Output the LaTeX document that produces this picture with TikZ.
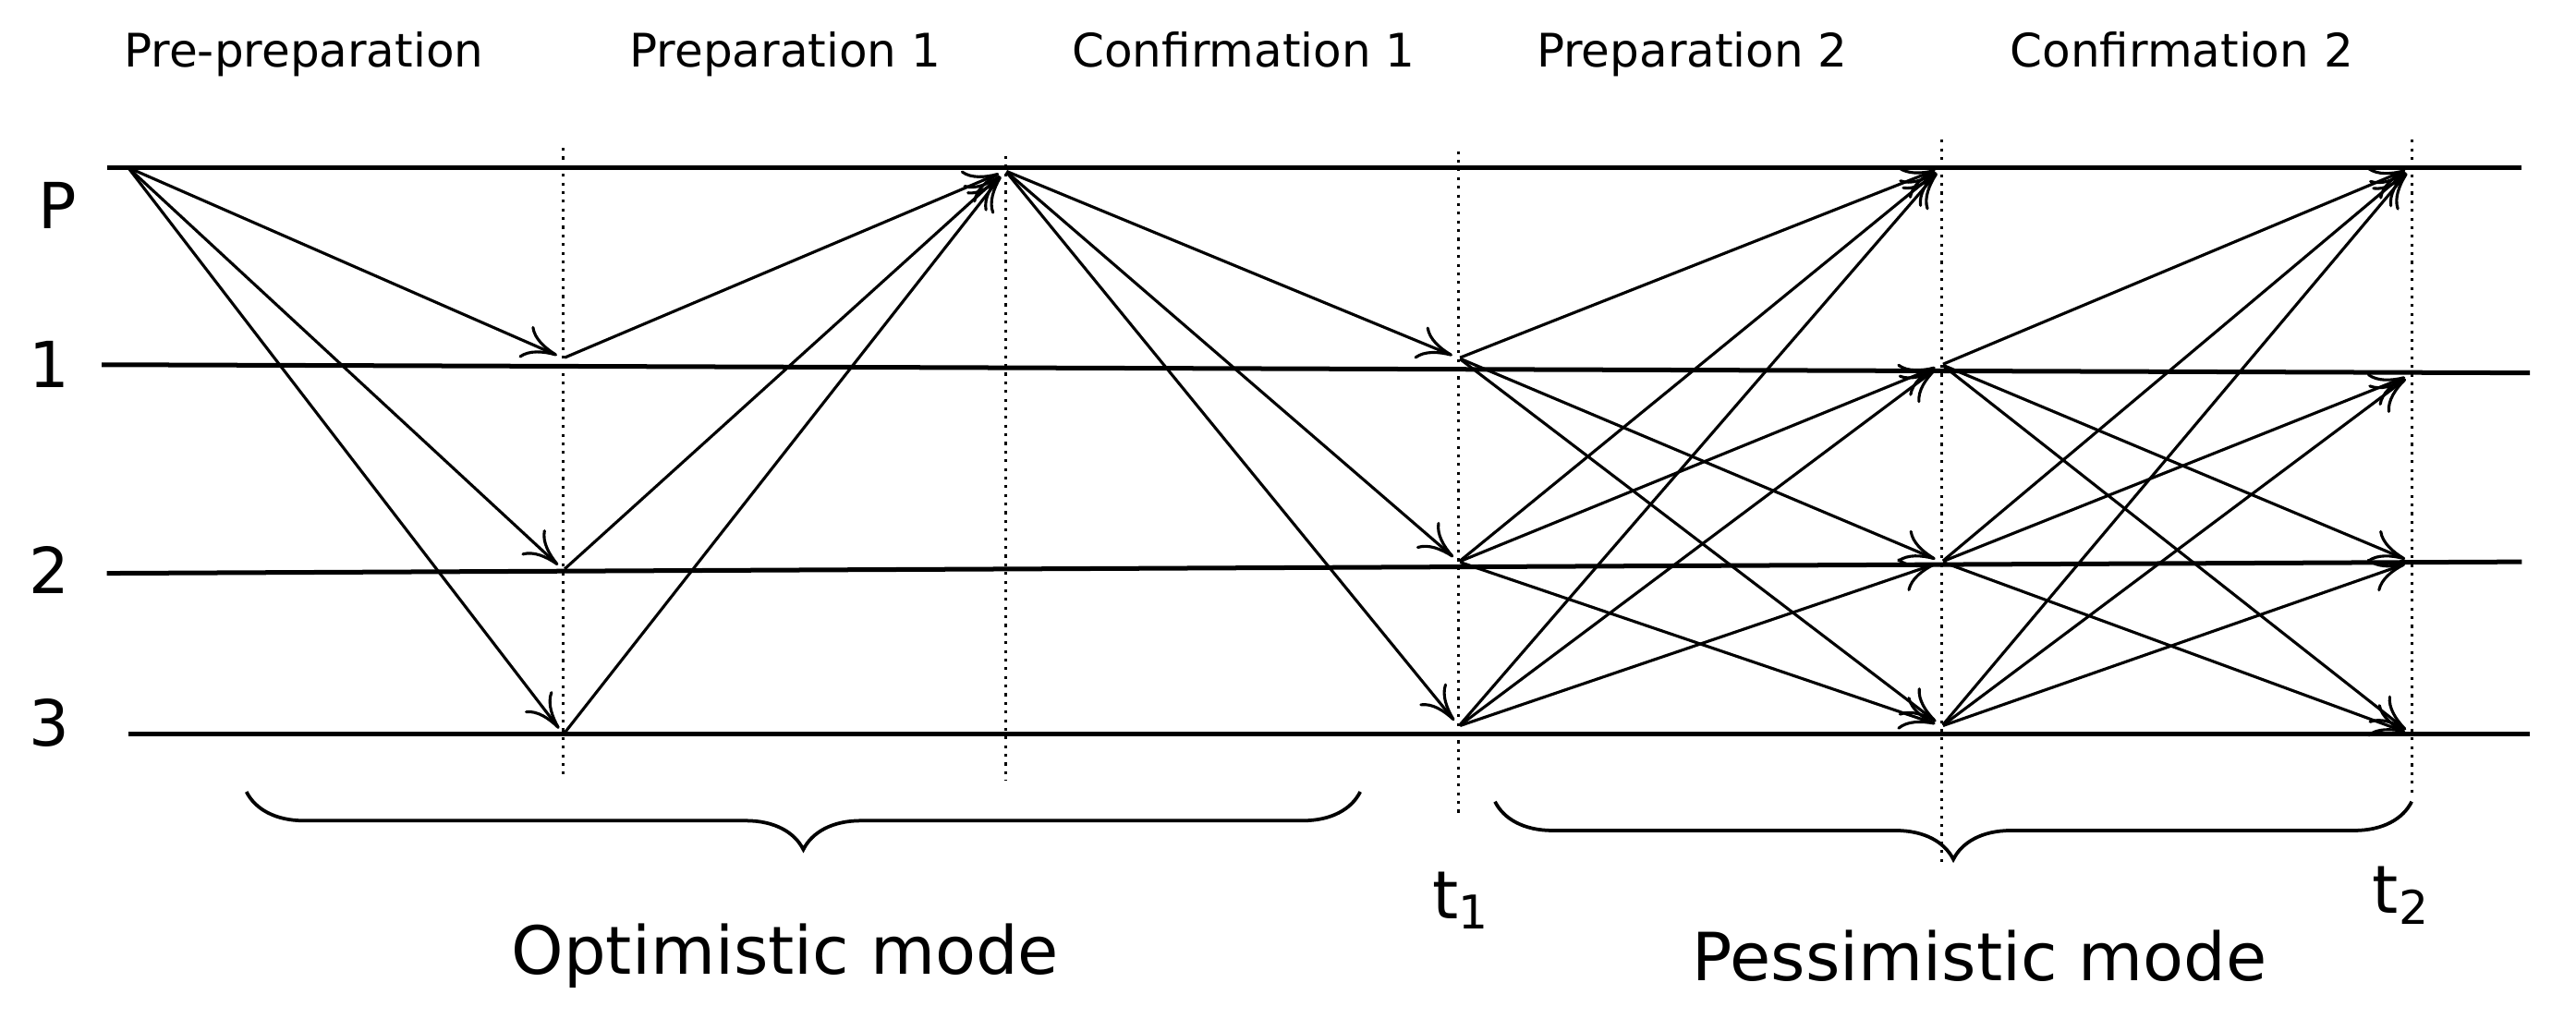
\documentclass[tikz,border=0pt]{standalone}
\usepackage{fontspec}
\setmainfont{DejaVu Sans}
\usetikzlibrary{arrows.meta,decorations.pathreplacing}
\begin{document}
\begin{tikzpicture}[x=0.01cm,y=-0.01cm,
  lvl/.style={line width=0.8pt},
  dot/.style={densely dotted,line width=0.5pt},
  arr/.style={-{To[length=6pt,width=6pt]},line width=0.5pt,shorten >=1pt},
  pt/.style={inner sep=0pt,minimum size=0pt},
  hdr/.style={font=\fontsize{8}{9}\selectfont},
  rowl/.style={font=\fontsize{11}{12}\selectfont},
  big/.style={font=\fontsize{11.5}{13}\selectfont},
  brc/.style={decorate,decoration={brace,amplitude=10pt},line width=0.6pt}]
\useasboundingbox (0,0) rectangle (1568,620);
% headers
\node[hdr] (h1) at (185,33) {Pre-preparation};
\node[hdr] (h2) at (478,33) {Preparation 1};
\node[hdr] (h3) at (757,30) {Confirmation 1};
\node[hdr] (h4) at (1030,33) {Preparation 2};
\node[hdr] (h5) at (1328,30) {Confirmation 2};
% row labels
\node[rowl] (lP) at (35,125) {P};
\node[rowl] (l1) at (30,222) {1};
\node[rowl] (l2) at (30,347) {2};
\node[rowl] (l3) at (30,440) {3};
% levels
\draw[lvl] (65,102) -- (1535,102);
\draw[lvl] (62,222) -- (1540,227);
\draw[lvl] (65,349) -- (1535,342);
\draw[lvl] (78,447) -- (1540,447);
% dotted verticals
\draw[dot] (343,90) -- (343,475);
\draw[dot] (612,95) -- (612,475);
\draw[dot] (888,92) -- (888,495);
\draw[dot] (1182,85) -- (1182,525);
\draw[dot] (1468,85) -- (1468,485);
% points
\node[pt] (S) at (78,102) {};
\node[pt] (A1) at (343,218) {};
\node[pt] (A2) at (343,347) {};
\node[pt] (A3) at (343,447) {};
\node[pt] (C) at (612,104) {};
\node[pt] (B1) at (888,218) {};
\node[pt] (B2) at (888,342) {};
\node[pt] (B3) at (888,442) {};
\node[pt] (DP) at (1182,102) {};
\node[pt] (D1) at (1182,222) {};
\node[pt] (D2) at (1182,342) {};
\node[pt] (D3) at (1182,442) {};
\node[pt] (EP) at (1468,102) {};
\node[pt] (E1) at (1468,228) {};
\node[pt] (E2) at (1468,342) {};
\node[pt] (E3) at (1468,447) {};
% arrows
\foreach \t in {A1,A2,A3} \draw[arr] (S) -- (\t);
\foreach \s in {A1,A2,A3} \draw[arr] (\s) -- (C);
\foreach \t in {B1,B2,B3} \draw[arr] (C) -- (\t);
\foreach \s/\t in {B1/DP,B1/D2,B1/D3,B2/DP,B2/D1,B2/D3,B3/DP,B3/D1,B3/D2} \draw[arr] (\s) -- (\t);
\foreach \s/\t in {D1/EP,D1/E2,D1/E3,D2/EP,D2/E1,D2/E3,D3/EP,D3/E1,D3/E2} \draw[arr] (\s) -- (\t);
% braces
\coordinate (o1) at (828,482);
\coordinate (o2) at (150,482);
\coordinate (p1) at (1468,488);
\coordinate (p2) at (910,488);
\draw[brc] (o1) -- (o2);
\draw[brc] (p1) -- (p2);
% bottom labels
\node[big] (om) at (478,582) {Optimistic mode};
\node[big] (pm) at (1205,582) {Pessimistic mode};
\node[big] (t1) at (890,548) {t\textsubscript{1}};
\node[big] (t2) at (1462,545) {t\textsubscript{2}};
\end{tikzpicture}
\end{document}
